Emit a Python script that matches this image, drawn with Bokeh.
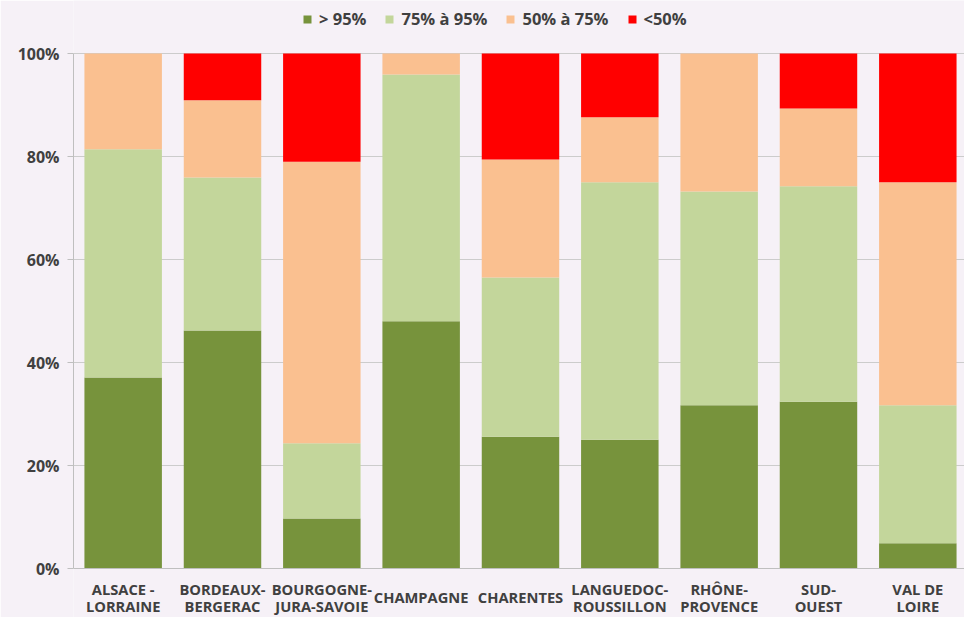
from bokeh.plotting import figure
from bokeh.models import ColumnDataSource, NumeralTickFormatter, FixedTicker, Legend, Span
from bokeh.core.properties import value
from bokeh.embed import file_html
from bokeh.resources import INLINE

regions = ["ALSACE -\nLORRAINE", "BORDEAUX-\nBERGERAC", "BOURGOGNE-\nJURA-SAVOIE", "CHAMPAGNE",
           "CHARENTES", "LANGUEDOC-\nROUSSILLON", "RHÔNE-\nPROVENCE", "SUD-\nOUEST", "VAL DE\nLOIRE"]
series = ["> 95%", "75% à 95%", "50% à 75%", "<50%"]
gt95 = [37.1, 46.2, 9.7, 48.0, 25.6, 25.0, 31.7, 32.4, 4.9]
p75_95 = [44.3, 29.7, 14.6, 47.9, 30.9, 50.0, 41.5, 41.8, 26.8]
p50_75 = [18.6, 15.0, 54.7, 4.1, 22.9, 12.6, 26.8, 15.1, 43.3]
lt50 = [0.0, 9.1, 21.0, 0.0, 20.6, 12.4, 0.0, 10.7, 25.0]
colors = ["#77933c", "#c3d69b", "#fac090", "#ff0000"]

bg = "#f6f1f7"
x = list(range(len(regions)))
src = ColumnDataSource(dict(
    x=x,
    s0=[v / 100 for v in gt95],
    s1=[v / 100 for v in p75_95],
    s2=[v / 100 for v in p50_75],
    s3=[v / 100 for v in lt50],
    label=regions,
    ly=[-0.056] * len(regions),
))

# frame spans the full page height; the 0-100% scale occupies 515 px of it
p = figure(width=964, height=617, output_backend="svg", toolbar_location=None,
           x_range=(-0.5, 8.47), y_range=(-49 / 515, 568 / 515),
           background_fill_color=bg, border_fill_color=bg,
           min_border_left=73, min_border_right=0, min_border_bottom=0, min_border_top=0)
p.outline_line_color = None

rs = p.vbar_stack(["s0", "s1", "s2", "s3"], x="x", width=0.78, source=src,
                  color=colors, line_color=None)

p.text(x="x", y="ly", text="label", source=src, text_align="center", text_baseline="middle",
       text_font=value("Open Sans"), text_font_style="bold", text_font_size="14.7px",
       text_line_height=0.88, text_color="#404040")

p.add_layout(Span(location=0, dimension="width", line_color="#bfbfbf", line_width=1))

legend = Legend(items=[(s, [r]) for s, r in zip(series, rs)], orientation="horizontal",
                location=(229, 587), background_fill_alpha=0, border_line_color=None,
                label_text_font="Open Sans", label_text_font_style="bold",
                label_text_font_size="16.5px", label_text_color="#404040",
                glyph_width=10, glyph_height=10, spacing=18, padding=4, margin=0,
                label_standoff=7)
p.add_layout(legend, "center")

p.xaxis.visible = False

p.yaxis.ticker = FixedTicker(ticks=[0, 0.2, 0.4, 0.6, 0.8, 1.0])
p.yaxis.bounds = (0, 1)
p.yaxis.formatter = NumeralTickFormatter(format="0%")
p.yaxis.major_label_text_font = "Open Sans"
p.yaxis.major_label_text_font_style = "bold"
p.yaxis.major_label_text_font_size = "16px"
p.yaxis.major_label_text_color = "#404040"
p.yaxis.axis_line_color = "#bfbfbf"
p.yaxis.major_tick_line_color = "#bfbfbf"
p.yaxis.major_tick_out = 6
p.yaxis.major_tick_in = 0
p.yaxis.minor_tick_line_color = None
p.yaxis.major_label_standoff = 8

p.xgrid.grid_line_color = None
p.ygrid.grid_line_color = "#cccccc"
p.ygrid.ticker = FixedTicker(ticks=[0.2, 0.4, 0.6, 0.8, 1.0])

open("out.html", "w").write(file_html(p, INLINE))
